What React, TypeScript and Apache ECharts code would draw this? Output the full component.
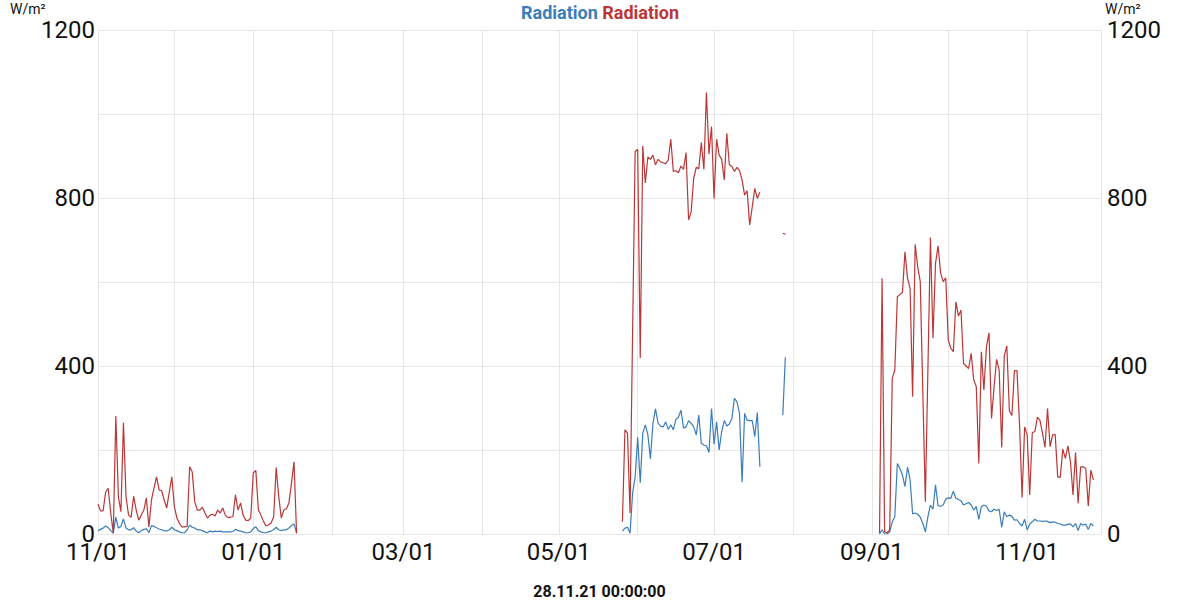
import { useEffect, useRef } from 'react';
import * as echarts from 'echarts';

// daily values, each segment starts at the given local date
const seg1Start = [2020, 10, 1];
const red1 = [
  71, 55, 55, 100, 109, 50, 2, 281, 89, 53,
  265, 89, 45, 40, 90, 57, 33, 45, 57, 86,
  17, 81, 110, 136, 105, 103, 81, 62, 100, 136,
  65, 38, 25, 17, 17, 18, 160, 148, 77, 57,
  57, 64, 50, 38, 45, 47, 43, 57, 50, 62,
  45, 39, 40, 41, 93, 57, 74, 45, 33, 32,
  38, 146, 151, 57, 45, 30, 19, 22, 26, 41,
  158, 89, 38, 57, 60, 74, 121, 172, 2,
];
const blue1 = [
  8, 11, 14, 19, 15, 8, 2, 40, 14, 18,
  36, 14, 10, 10, 15, 7, 3, 8, 11, 12,
  3, 20, 18, 15, 12, 10, 8, 7, 10, 16,
  10, 8, 5, 3, 3, 10, 21, 16, 14, 10,
  10, 8, 5, 3, 7, 5, 7, 6, 7, 5,
  5, 5, 5, 6, 11, 8, 7, 5, 3, 3,
  5, 13, 17, 8, 5, 3, 3, 5, 7, 10,
  16, 10, 8, 10, 10, 14, 20, 24, 2,
];

const seg2Start = [2021, 4, 26];
const red2 = [
  29, 248, 240, 50, 480, 910, 916, 419, 924, 836,
  898, 892, 902, 879, 892, 886, 884, 882, 890, 940,
  863, 865, 860, 876, 868, 908, 748, 767, 847, 873,
  870, 932, 868, 1051, 905, 970, 799, 940, 902, 892,
  843, 954, 879, 875, 863, 873, 865, 843, 807, 817,
  736, 779, 823, 799, 814,
];
const blue2 = [
  7, 14, 16, 2, 97, 136, 230, 122, 240, 260,
  236, 179, 264, 298, 264, 257, 255, 267, 249, 260,
  248, 273, 278, 295, 252, 255, 270, 264, 255, 236,
  283, 216, 212, 210, 194, 299, 214, 267, 200, 244,
  270, 257, 262, 275, 323, 315, 287, 123, 287, 271,
  270, 270, 232, 289, 160,
];

const seg3Start = [2021, 6, 28];
const red3 = [716, 714];
const blue3 = [283, 421];

const seg4Start = [2021, 8, 4];
const red4 = [
  2, 609, 5, 3, 10, 371, 390, 565, 570, 575,
  672, 609, 585, 327, 690, 636, 601, 340, 77, 390,
  706, 466, 645, 686, 621, 601, 610, 462, 442, 434,
  553, 519, 533, 406, 400, 394, 430, 367, 351, 168,
  434, 343, 446, 479, 275, 351, 416, 390, 206, 424,
  448, 294, 282, 389, 389, 260, 87, 255, 236, 93,
  241, 244, 278, 271, 241, 206, 299, 208, 236, 237,
  136, 135, 202, 180, 210, 172, 93, 194, 73, 160,
  160, 156, 67, 152, 129,
];
const blue4 = [
  0, 10, 0, 0, 5, 29, 41, 168, 156, 140,
  113, 159, 129, 48, 50, 47, 40, 25, 5, 41,
  69, 59, 117, 67, 66, 69, 83, 86, 85, 102,
  85, 82, 79, 69, 72, 75, 69, 57, 65, 35,
  65, 69, 66, 55, 53, 59, 56, 59, 16, 53,
  41, 45, 42, 33, 34, 25, 19, 35, 10, 24,
  29, 35, 31, 31, 30, 31, 30, 27, 29, 28,
  25, 24, 21, 21, 23, 24, 17, 25, 8, 25,
  21, 24, 11, 25, 19,
];

const yTicks = [0, 400, 800, 1200];
const seriesNames = ['Radiation', 'Radiation'];
const unit = 'W/m²';
const stamp = '28.11.21 00:00:00';

const BLUE = '#3b7dbb';
const RED = '#bb3737';
const FONT = 'Roboto';

type Pt = [number, number | null];

const segment = (start: number[], values: number[]): Pt[] =>
  values.map((v, i) => [new Date(start[0], start[1], start[2] + i).getTime(), v]);

// join segments with a null point so the line breaks in the gaps
const joinSegments = (parts: Pt[][]): Pt[] => {
  const out: Pt[] = [];
  parts.forEach((p, i) => {
    if (i > 0) out.push([p[0][0] - 86400000, null]);
    out.push(...p);
  });
  return out;
};

const App = () => {
  const chartRef = useRef<HTMLDivElement>(null);

  useEffect(() => {
    if (!chartRef.current) return;
    const chart = echarts.init(chartRef.current, null, { renderer: 'svg' });

    const blueData = joinSegments([
      segment(seg1Start, blue1),
      segment(seg2Start, blue2),
      segment(seg3Start, blue3),
      segment(seg4Start, blue4),
    ]);
    const redData = joinSegments([
      segment(seg1Start, red1),
      segment(seg2Start, red2),
      segment(seg3Start, red3),
      segment(seg4Start, red4),
    ]);

    const yAxisBase = {
      type: 'value',
      min: 0,
      max: 1200,
      interval: 200,
      axisLine: { show: true, lineStyle: { color: '#e6e6e6' } },
      axisTick: { show: false },
      splitLine: { lineStyle: { color: '#e6e6e6' } },
      axisLabel: {
        fontFamily: FONT,
        fontSize: 24,
        color: '#111',
        formatter: (v: number) => (yTicks.includes(v) ? String(v) : ''),
      },
    };

    chart.setOption({
      animation: false,
      textStyle: { fontFamily: FONT },
      title: {
        left: 'center',
        top: -2,
        text: `{b|${seriesNames[0]}} {r|${seriesNames[1]}}`,
        textStyle: {
          rich: {
            b: { color: BLUE, fontSize: 18, fontWeight: 'bold', fontFamily: FONT },
            r: { color: RED, fontSize: 18, fontWeight: 'bold', fontFamily: FONT },
          },
        },
      },
      graphic: [
        {
          type: 'text',
          left: 10,
          top: 2,
          style: { text: unit, fontSize: 14, fontFamily: FONT, fill: '#111' },
        },
        {
          type: 'text',
          left: 1105,
          top: 2,
          style: { text: unit, fontSize: 14, fontFamily: FONT, fill: '#111' },
        },
      ],
      grid: { left: 98, right: 99, top: 30, bottom: 66, outerBoundsMode: 'none' },
      xAxis: {
        type: 'time',
        min: new Date(2020, 10, 1).getTime(),
        max: new Date(2021, 10, 30).getTime(),
        splitNumber: 13,
        minInterval: 28 * 86400000,
        maxInterval: 31 * 86400000,
        name: stamp,
        nameLocation: 'middle',
        nameGap: 49,
        nameTextStyle: { fontFamily: FONT, fontSize: 16, fontWeight: 'bold', color: '#111' },
        axisLine: { show: true, lineStyle: { color: '#e6e6e6' } },
        axisTick: { show: false },
        splitLine: { show: true, lineStyle: { color: '#e6e6e6' } },
        axisLabel: {
          fontFamily: FONT,
          fontSize: 24,
          color: '#111',
          margin: 6,
          showMaxLabel: false,
          hideOverlap: false,
          formatter: (val: number) => {
            const d = new Date(val);
            const m = d.getMonth() + 1;
            if (m % 2 === 0 || d.getDate() !== 1) return '';
            return `${String(m).padStart(2, '0')}/01`;
          },
        },
      },
      yAxis: [
        { ...yAxisBase, position: 'left', axisLabel: { ...yAxisBase.axisLabel, margin: 3 } },
        { ...yAxisBase, position: 'right', axisLabel: { ...yAxisBase.axisLabel, margin: 6 } },
      ],
      series: [
        {
          name: seriesNames[0],
          type: 'line',
          yAxisIndex: 0,
          data: blueData,
          showSymbol: false,
          connectNulls: false,
          lineStyle: { color: BLUE, width: 1.2 },
          itemStyle: { color: BLUE },
        },
        {
          name: seriesNames[1],
          type: 'line',
          yAxisIndex: 1,
          data: redData,
          showSymbol: false,
          connectNulls: false,
          lineStyle: { color: RED, width: 1.2 },
          itemStyle: { color: RED },
        },
      ],
    });

    return () => {
      chart.dispose();
    };
  }, []);

  return (
    <div
      ref={chartRef}
      style={{ position: 'fixed', left: 0, top: 0, width: 1200, height: 600, background: '#fff' }}
    />
  );
};

export default App;
